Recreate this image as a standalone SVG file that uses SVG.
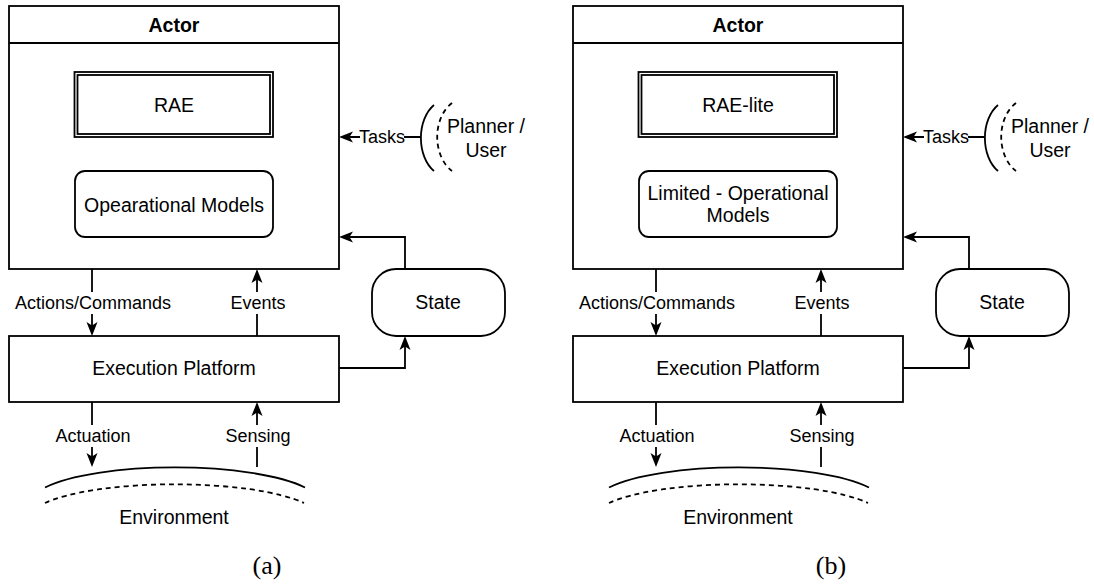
<svg xmlns="http://www.w3.org/2000/svg" xmlns:xlink="http://www.w3.org/1999/xlink" width="1094" height="588" viewBox="0 0 1094 588">
  <style>
    .box { fill: #ffffff; stroke: #000000; stroke-width: 1.8; }
    .wire { fill: none; stroke: #000000; stroke-width: 1.8; }
    .dash { fill: none; stroke: #000000; stroke-width: 1.8; stroke-dasharray: 5 4; }
    .lbl-bg { fill: #ffffff; stroke: none; }
    text { font-family: "Liberation Sans", Arial, sans-serif; fill: #000000; text-anchor: middle; }
    .t { font-size: 19.5px; }
    .tb { font-size: 19.5px; font-weight: bold; }
    .e { font-size: 18px; }
    .cap { font-family: "Liberation Serif", "DejaVu Serif", serif; font-size: 26px; }
  </style>
  <defs>
    <!-- arrowhead pointing along +x, tip at the origin -->
    <path id="ah" d="M0,0 L-14,-5.5 L-10.5,0 L-14,5.5 Z" fill="#000000"/>
    <!-- arrowheads used by both panels -->
    <g id="heads">
      <use href="#ah" xlink:href="#ah" transform="translate(125 171) rotate(90)"/>
      <use href="#ah" xlink:href="#ah" transform="translate(223 137) rotate(-90)"/>
      <use href="#ah" xlink:href="#ah" transform="translate(339 137) rotate(180)"/>
      <use href="#ah" xlink:href="#ah" transform="translate(339 237) rotate(180)"/>
      <use href="#ah" xlink:href="#ah" transform="translate(405 336) rotate(-90)"/>
      <use href="#ah" xlink:href="#ah" transform="translate(92 336) rotate(90)"/>
      <use href="#ah" xlink:href="#ah" transform="translate(257 269) rotate(-90)"/>
      <use href="#ah" xlink:href="#ah" transform="translate(92 467) rotate(90)"/>
      <use href="#ah" xlink:href="#ah" transform="translate(257 402) rotate(-90)"/>
    </g>
  </defs>
  <rect width="1094" height="588" fill="#ffffff"/>

  <!-- left panel (a) -->
  <g id="panel-a">
    <g id="a-connectors">
      <path class="wire" d="M125,137 V163"/>
      <path class="wire" d="M223,171 V145"/>
      <path class="wire" d="M420,137 H347"/>
      <path class="wire" d="M405,269 V237 H347"/>
      <path class="wire" d="M339,368 H405 V344"/>
      <path class="wire" d="M92,269 V328"/>
      <path class="wire" d="M257,336 V277"/>
      <path class="wire" d="M92,402 V459"/>
      <path class="wire" d="M257,467 V410"/>
      <use href="#heads" xlink:href="#heads"/>
    </g>
    <g id="a-actor">
      <rect class="box" x="9" y="6" width="330" height="263"/>
      <line class="wire" x1="9" y1="43" x2="339" y2="43"/>
      <text class="tb" x="174" y="32">Actor</text>
    </g>
    <g id="a-rae">
      <rect class="box" x="74.5" y="72" width="198.5" height="65"/>
      <rect class="box" x="77.5" y="75" width="192.5" height="59"/>
      <text class="t" x="174" y="112">RAE</text>
    </g>
    <g id="a-models">
      <rect class="box" x="75" y="171" width="198" height="66" rx="10"/>
      <text class="t" x="174" y="212">Opearational Models</text>
    </g>
    <g id="a-planner">
      <path class="wire" d="M434,105 A26,38 0 0 0 434,171"/>
      <path class="dash" d="M452,103 A29,39 0 0 0 452,171"/>
      <text class="t" x="486" y="133">Planner /</text>
      <text class="t" x="486" y="157">User</text>
    </g>
    <g id="a-state">
      <rect class="box" x="372" y="269" width="133" height="67" rx="24"/>
      <text class="t" x="438" y="309">State</text>
    </g>
    <g id="a-exec">
      <rect class="box" x="9" y="336" width="330" height="66"/>
      <text class="t" x="174" y="375">Execution Platform</text>
    </g>
    <g id="a-environment">
      <path class="wire" d="M45,487.5 A145,36 0 0 1 305,487.5"/>
      <path class="dash" d="M45,503 A145,34 0 0 1 304,503"/>
      <text class="t" x="174" y="524">Environment</text>
    </g>
    <g id="a-labels">
      <rect class="lbl-bg" x="360" y="126" width="44" height="22"/>
      <text class="e" x="382" y="143">Tasks</text>
      <rect class="lbl-bg" x="14" y="292" width="158" height="22"/>
      <text class="e" x="93" y="309">Actions/Commands</text>
      <rect class="lbl-bg" x="231" y="292" width="54" height="22"/>
      <text class="e" x="258" y="309">Events</text>
      <rect class="lbl-bg" x="55" y="425" width="76" height="22"/>
      <text class="e" x="93" y="442">Actuation</text>
      <rect class="lbl-bg" x="226" y="425" width="64" height="22"/>
      <text class="e" x="258" y="442">Sensing</text>
    </g>
    <text class="cap" x="267" y="574">(a)</text>
  </g>

  <!-- right panel (b) -->
  <g id="panel-b" transform="translate(564 0)">
    <g id="b-connectors">
      <path class="wire" d="M125,137 V163"/>
      <path class="wire" d="M223,171 V145"/>
      <path class="wire" d="M420,137 H347"/>
      <path class="wire" d="M405,269 V237 H347"/>
      <path class="wire" d="M339,368 H405 V344"/>
      <path class="wire" d="M92,269 V328"/>
      <path class="wire" d="M257,336 V277"/>
      <path class="wire" d="M92,402 V459"/>
      <path class="wire" d="M257,467 V410"/>
      <use href="#heads" xlink:href="#heads"/>
    </g>
    <g id="b-actor">
      <rect class="box" x="9" y="6" width="330" height="263"/>
      <line class="wire" x1="9" y1="43" x2="339" y2="43"/>
      <text class="tb" x="174" y="32">Actor</text>
    </g>
    <g id="b-rae-lite">
      <rect class="box" x="74.5" y="72" width="198.5" height="65"/>
      <rect class="box" x="77.5" y="75" width="192.5" height="59"/>
      <text class="t" x="174" y="112">RAE-lite</text>
    </g>
    <g id="b-models">
      <rect class="box" x="75" y="171" width="198" height="66" rx="10"/>
      <text class="t" x="174" y="200">Limited - Operational</text>
      <text class="t" x="174" y="222">Models</text>
    </g>
    <g id="b-planner">
      <path class="wire" d="M434,105 A26,38 0 0 0 434,171"/>
      <path class="dash" d="M452,103 A29,39 0 0 0 452,171"/>
      <text class="t" x="486" y="133">Planner /</text>
      <text class="t" x="486" y="157">User</text>
    </g>
    <g id="b-state">
      <rect class="box" x="372" y="269" width="133" height="67" rx="24"/>
      <text class="t" x="438" y="309">State</text>
    </g>
    <g id="b-exec">
      <rect class="box" x="9" y="336" width="330" height="66"/>
      <text class="t" x="174" y="375">Execution Platform</text>
    </g>
    <g id="b-environment">
      <path class="wire" d="M45,487.5 A145,36 0 0 1 305,487.5"/>
      <path class="dash" d="M45,503 A145,34 0 0 1 304,503"/>
      <text class="t" x="174" y="524">Environment</text>
    </g>
    <g id="b-labels">
      <rect class="lbl-bg" x="360" y="126" width="44" height="22"/>
      <text class="e" x="382" y="143">Tasks</text>
      <rect class="lbl-bg" x="14" y="292" width="158" height="22"/>
      <text class="e" x="93" y="309">Actions/Commands</text>
      <rect class="lbl-bg" x="231" y="292" width="54" height="22"/>
      <text class="e" x="258" y="309">Events</text>
      <rect class="lbl-bg" x="55" y="425" width="76" height="22"/>
      <text class="e" x="93" y="442">Actuation</text>
      <rect class="lbl-bg" x="226" y="425" width="64" height="22"/>
      <text class="e" x="258" y="442">Sensing</text>
    </g>
    <text class="cap" x="267" y="574">(b)</text>
  </g>
</svg>
